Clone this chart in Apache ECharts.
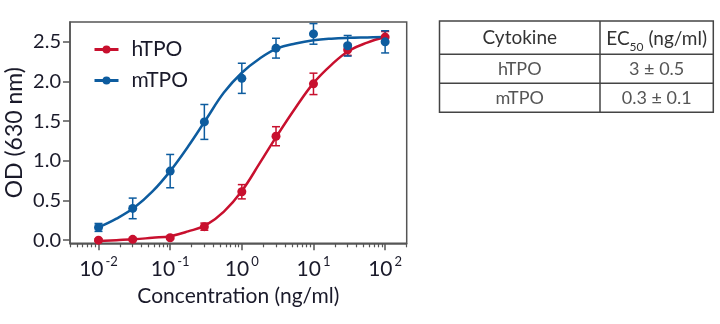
<!DOCTYPE html>
<html>
<head>
<meta charset="utf-8">
<script src="https://cdn.jsdelivr.net/npm/echarts@6/dist/echarts.min.js"></script>
<style>
  html, body { margin: 0; padding: 0; background: #fff; }
  #chart { width: 720px; height: 324px; }
</style>
</head>
<body>
<div id="chart"></div>
<script>
// Concentrations tested (ng/ml)
const concentrations = [0.01, 0.03, 0.1, 0.3, 1, 3, 10, 30, 100];

// Mean OD (630 nm) and error for each concentration
const hTPOMean = [0.00, 0.01, 0.03, 0.17, 0.61, 1.31, 1.97, 2.40, 2.56];
const hTPOErr  = [0.015, 0.015, 0.015, 0.045, 0.09, 0.12, 0.135, 0.07, 0.07];
const mTPOMean = [0.16, 0.40, 0.87, 1.49, 2.04, 2.42, 2.60, 2.45, 2.50];
const mTPOErr  = [0.05, 0.13, 0.21, 0.22, 0.19, 0.125, 0.13, 0.13, 0.14];

// Fitted dose-response curves, sampled at log10(concentration)
const hTPOFitLogConc = [-2, -1.75, -1.5, -1.25, -1, -0.75, -0.5, -0.25, 0, 0.25, 0.5, 0.75, 1, 1.25, 1.5, 1.75, 2];
const hTPOFitOD      = [-0.01, 0.0, 0.01, 0.03, 0.05, 0.11, 0.19, 0.36, 0.62, 0.97, 1.33, 1.67, 1.98, 2.21, 2.39, 2.49, 2.56];
const mTPOFitLogConc = [-2, -1.75, -1.5, -1.25, -1, -0.75, -0.5, -0.25, 0, 0.25, 0.5, 0.75, 1, 1.25, 1.5, 1.75, 2];
const mTPOFitOD      = [0.16, 0.27, 0.41, 0.61, 0.87, 1.18, 1.52, 1.86, 2.11, 2.29, 2.42, 2.48, 2.52, 2.54, 2.55, 2.555, 2.56];

// Axis ticks
const xMajorExponents = [-2, -1, 0, 1, 2];
const yTickValues = [0, 0.5, 1.0, 1.5, 2.0, 2.5];

// EC50 table
const tableHeader = ['Cytokine', 'EC50 (ng/ml)'];
const tableRows = [['hTPO', '3 \u00b1 0.5'], ['mTPO', '0.3 \u00b1 0.1']];

const RED = '#c8102e';
const BLUE = '#0d5c9f';
const AXIS = '#555';
const TEXT = '#1a1a2a';
const FONT = 'Lato';

// Axis spans 0.004 .. 200 ng/ml in log space
const xMin = Math.log10(0.004);
const xMax = Math.log10(200);

// Minor tick positions (2..9 x each decade inside the range)
const xMinorTicks = [];
for (let e = -3; e <= 2; e++) {
  for (let k = 2; k <= 9; k++) {
    const v = Math.log10(k) + e;
    if (v >= xMin - 1e-9 && v <= xMax + 1e-9) xMinorTicks.push(v);
  }
}

const lx = concentrations.map(c => Math.log10(c));
const pts = (means, errs) => means.map((m, i) => [lx[i], m, errs[i]]);
const zip = (xs, ys) => xs.map((x, i) => [x, ys[i]]);

function errorBar(color) {
  return function (params, api) {
    const x = api.value(0), y = api.value(1), e = api.value(2);
    const top = api.coord([x, y + e]);
    const bot = api.coord([x, y - e]);
    const hw = 4;
    const style = { stroke: color, lineWidth: 1.5 };
    return {
      type: 'group',
      children: [
        { type: 'line', shape: { x1: top[0], y1: top[1], x2: bot[0], y2: bot[1] }, style },
        { type: 'line', shape: { x1: top[0] - hw, y1: top[1], x2: top[0] + hw, y2: top[1] }, style },
        { type: 'line', shape: { x1: bot[0] - hw, y1: bot[1], x2: bot[0] + hw, y2: bot[1] }, style }
      ]
    };
  };
}

function supLabel(v) {
  return '{b|10}{s|' + v + '}';
}

// Table geometry
const T = { left: 439.5, right: 713.3, top: 21, mid: 600, rows: [21, 54.3, 83.3, 112.3] };
const tableGraphics = [];
tableGraphics.push({ type: 'rect', shape: { x: T.left, y: T.top, width: T.right - T.left, height: T.rows[3] - T.top },
  style: { fill: 'none', stroke: '#444', lineWidth: 1.5 } });
[T.rows[1], T.rows[2]].forEach(y => tableGraphics.push({ type: 'line',
  shape: { x1: T.left, y1: y, x2: T.right, y2: y }, style: { stroke: '#444', lineWidth: 1.5 } }));
tableGraphics.push({ type: 'line', shape: { x1: T.mid, y1: T.top, x2: T.mid, y2: T.rows[3] },
  style: { stroke: '#444', lineWidth: 1.5 } });
const c1 = (T.left + T.mid) / 2, c2 = (T.mid + T.right) / 2;
const rowMid = i => (T.rows[i] + T.rows[i + 1]) / 2;
tableGraphics.push({ type: 'text', x: c1, y: rowMid(0), style: { text: tableHeader[0], font: '19px Lato', fill: '#333', align: 'center', verticalAlign: 'middle' } });
tableGraphics.push({ type: 'text', x: c2, y: rowMid(0), style: {
  text: '{a|EC}{s|50}{a| (ng/ml)}', align: 'center', verticalAlign: 'middle',
  rich: {
    a: { fontFamily: FONT, fontSize: 19, fill: '#333', lineHeight: 22, verticalAlign: 'bottom' },
    s: { fontFamily: FONT, fontSize: 12, fill: '#333', lineHeight: 22, verticalAlign: 'bottom', padding: [0, 0, -4, 0] }
  } } });
tableRows.forEach((r, i) => {
  tableGraphics.push({ type: 'text', x: c1, y: rowMid(i + 1), style: { text: r[0], font: '18px Lato', fill: '#555', align: 'center', verticalAlign: 'middle' } });
  tableGraphics.push({ type: 'text', x: c2, y: rowMid(i + 1), style: { text: r[1], font: '18px Lato', fill: '#555', align: 'center', verticalAlign: 'middle' } });
});

const chart = echarts.init(document.getElementById('chart'), null, { renderer: 'canvas' });
chart.setOption({
  animation: false,
  backgroundColor: '#fff',
  textStyle: { fontFamily: FONT },
  grid: { left: 70, top: 22, width: 336.7, height: 221.3, show: true, borderColor: AXIS, borderWidth: 1.5 },
  legend: {
    data: ['hTPO', 'mTPO'],
    orient: 'vertical', left: 88, top: 34,
    itemWidth: 24, itemHeight: 10, itemGap: 10,
    textStyle: { fontFamily: FONT, fontSize: 21, lineHeight: 20, color: TEXT, padding: [0, 0, 0, 8] },
    lineStyle: { width: 3 }
  },
  xAxis: [{
    type: 'value', min: xMin, max: xMax,
    axisLine: { show: true, onZero: false, lineStyle: { color: AXIS, width: 1.5 } },
    axisTick: { show: true, customValues: xMajorExponents, length: 7, lineStyle: { color: AXIS, width: 1.5 } },
    axisLabel: {
      customValues: xMajorExponents, margin: 12, formatter: supLabel,
      rich: {
        b: { fontFamily: FONT, fontSize: 21, color: TEXT, lineHeight: 24, verticalAlign: 'bottom' },
        s: { fontFamily: FONT, fontSize: 13, color: TEXT, lineHeight: 24, verticalAlign: 'top', padding: [0, 0, 0, 2] }
      }
    },
    splitLine: { show: false },
    name: 'Concentration (ng/ml)', nameLocation: 'middle', nameGap: 42,
    nameTextStyle: { fontFamily: FONT, fontSize: 21, color: TEXT }
  }, {
    type: 'value', min: xMin, max: xMax, position: 'bottom',
    axisLine: { show: false, onZero: false },
    axisTick: { show: true, customValues: xMinorTicks, length: 4, lineStyle: { color: AXIS, width: 1.2 } },
    axisLabel: { show: false },
    splitLine: { show: false }
  }],
  yAxis: {
    type: 'value', min: -0.04, max: 2.75,
    axisLine: { show: true, onZero: false, lineStyle: { color: AXIS, width: 1.5 } },
    axisTick: { show: true, customValues: yTickValues, length: 7, lineStyle: { color: AXIS, width: 1.5 } },
    axisLabel: { customValues: yTickValues, margin: 9, formatter: v => v.toFixed(1),
      fontFamily: FONT, fontSize: 20, color: TEXT },
    splitLine: { show: false },
    name: 'OD (630 nm)', nameLocation: 'middle', nameGap: 44, nameRotate: 90,
    nameTextStyle: { fontFamily: FONT, fontSize: 23, color: TEXT }
  },
  graphic: tableGraphics,
  series: [
    {
      name: 'hTPO', type: 'line', smooth: 0.4, data: zip(hTPOFitLogConc, hTPOFitOD),
      symbol: 'circle', symbolSize: 8, showSymbol: false,
      lineStyle: { color: RED, width: 2.5 }, itemStyle: { color: RED }, z: 3
    },
    {
      name: 'mTPO', type: 'line', smooth: 0.4, data: zip(mTPOFitLogConc, mTPOFitOD),
      symbol: 'circle', symbolSize: 8, showSymbol: false,
      lineStyle: { color: BLUE, width: 2.5 }, itemStyle: { color: BLUE }, z: 3
    },
    { name: 'hTPO error', type: 'custom', renderItem: errorBar(RED), data: pts(hTPOMean, hTPOErr), z: 4 },
    { name: 'mTPO error', type: 'custom', renderItem: errorBar(BLUE), data: pts(mTPOMean, mTPOErr), z: 4 },
    { name: 'hTPO data', type: 'scatter', symbolSize: 9, data: pts(hTPOMean, hTPOErr).map(d => [d[0], d[1]]),
      itemStyle: { color: RED, opacity: 1 }, z: 5 },
    { name: 'mTPO data', type: 'scatter', symbolSize: 9, data: pts(mTPOMean, mTPOErr).map(d => [d[0], d[1]]),
      itemStyle: { color: BLUE, opacity: 1 }, z: 5 }
  ]
});
</script>
</body>
</html>
